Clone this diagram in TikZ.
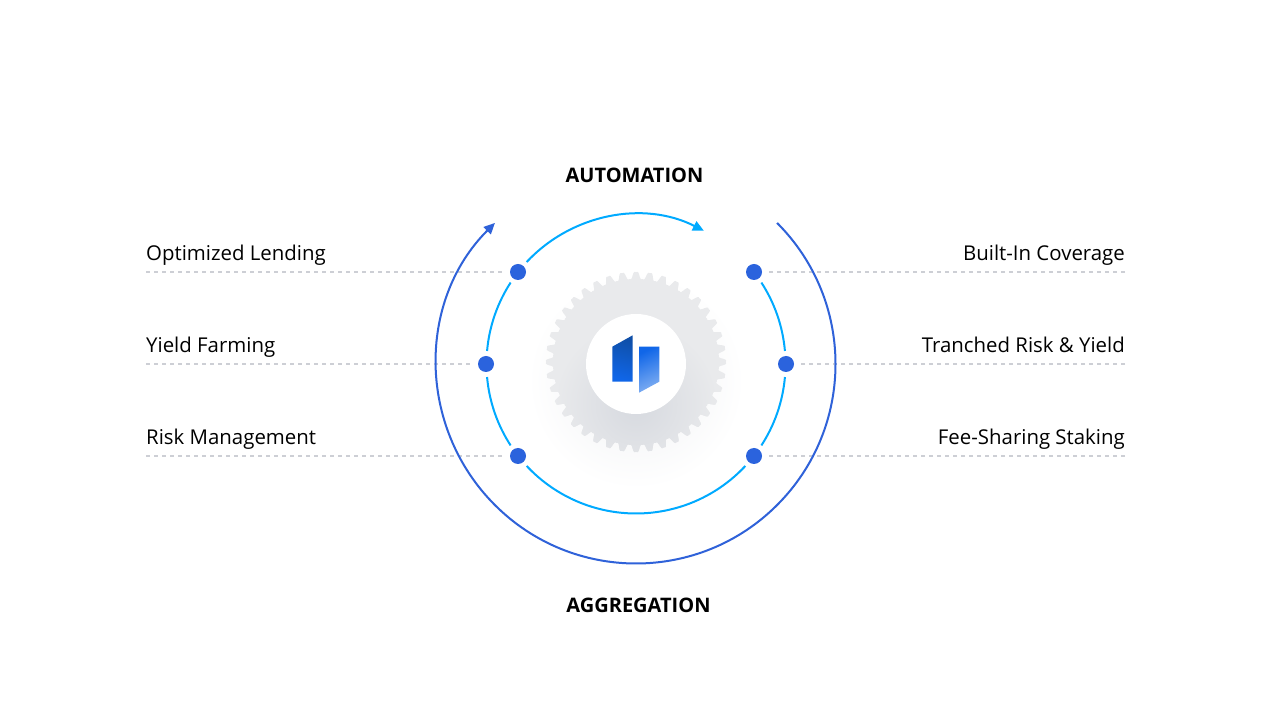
\documentclass[tikz,border=0pt]{standalone}
\usepackage{fontspec}
\setmainfont{Open Sans}
\usetikzlibrary{arrows.meta}
\definecolor{ringblue}{HTML}{2F62D9}
\definecolor{ringsky}{HTML}{00AAFF}
\definecolor{dotblue}{HTML}{2B63DD}
\definecolor{rulegray}{HTML}{CDCFD5}
\definecolor{geargray}{HTML}{E9EAEC}
\definecolor{gearshade}{HTML}{D6D9DF}
\definecolor{logodark}{HTML}{0F4FA8}
\definecolor{logomid}{HTML}{1066E8}
\definecolor{logolight}{HTML}{7FAEF2}
\tikzset{
  rowlabel/.style={font=\fontsize{20.4}{24}\selectfont,text=black,inner sep=0pt},
  headlabel/.style={font=\fontsize{20}{24}\selectfont\bfseries,text=black,inner sep=0pt,anchor=base},
  rowdot/.style={circle,fill=dotblue,minimum size=16pt,inner sep=0pt},
  rowrule/.style={draw=rulegray,line width=1.3pt,dash pattern=on 4pt off 4pt},
  outerring/.style={draw=ringblue,line width=2pt},
  innerring/.style={draw=ringsky,line width=2pt},
  declare function={gearrad(\t)=86.5+4.2*(1.6*cos(40*\t)-0.8*cos(40*\t)*cos(40*\t)*cos(40*\t));},
}
\begin{document}
\begin{tikzpicture}[x=1pt,y=1pt]
    \useasboundingbox (0,0) rectangle (1270,726);
    \fill[white] (0,0) rectangle (1270,726);
    \coordinate (hub) at (636,362);

    % soft glow under the gear
    \shade[inner color=gearshade!40,outer color=white] (636,345) circle (108);
    \begin{scope}
      \clip plot[smooth cycle,samples=720,domain=0:359.5]
        ({636+gearrad(\x)*cos(\x)},{364+gearrad(\x)*sin(\x)});
      \fill[geargray] (500,220) rectangle (770,500);
      \shade[inner color=gearshade,outer color=geargray] (636,322) circle (82);
    \end{scope}
    \node[circle,fill=white,minimum size=100pt,inner sep=0pt] (logo) at (636,362) {};

    % logo
    \shade[top color=logodark,bottom color=logomid,shading angle=-15]
      (612.3,379.3) -- (632.7,390.7) -- (632.7,344.3) -- (612.3,344.3) -- cycle;
    \shade[top color=logomid,bottom color=logolight,shading angle=25]
      (639,379.3) -- (659.3,379.3) -- (659.3,344.3) -- (639,333.3) -- cycle;

    \node[rowdot] (dotA) at (518,454) {};
    \node[rowdot] (dotB) at (486,362) {};
    \node[rowdot] (dotC) at (518,270) {};
    \node[rowdot] (dotD) at (754,454) {};
    \node[rowdot] (dotE) at (786,362) {};
    \node[rowdot] (dotF) at (754,270) {};

    \coordinate (endA) at (146,454);
    \coordinate (endB) at (146,362);
    \coordinate (endC) at (146,270);
    \coordinate (endD) at (1125,454);
    \coordinate (endE) at (1125,362);
    \coordinate (endF) at (1125,270);

    \foreach \row in {A,B,C,D,E,F}
      \draw[rowrule,shorten >=6pt] (end\row) -- (dot\row);

    \node[rowlabel,anchor=base west] (optlend) at (146,465) {Optimized Lending};
    \node[rowlabel,anchor=base west] (yieldfarm) at (146,373) {Yield Farming};
    \node[rowlabel,anchor=base west] (riskman) at (146,281) {Risk Management};
    \node[rowlabel,anchor=base east] (builtin) at (1125,465) {Built-In Coverage};
    \node[rowlabel,anchor=base east] (tranched) at (1125,373) {Tranched Risk \& Yield};
    \node[rowlabel,anchor=base east] (feeshare) at (1125,281) {Fee-Sharing Staking};

    \node[headlabel] (automation) at (634.5,543) {AUTOMATION};
    \node[headlabel] (aggregation) at (638.5,113) {AGGREGATION};

    \draw[outerring,-{Triangle[length=11pt,width=10pt]}] (hub) ++(45:199.5) arc (45:-225:199.5);
    \draw[innerring,-{Triangle[length=11pt,width=10pt]}] (hub) ++(137:149.5) arc (137:63:149.5);
    \draw[innerring] (hub) ++(33:149.5) arc (33:5:149.5);
    \draw[innerring] (hub) ++(-5:149.5) arc (-5:-33:149.5);
    \draw[innerring] (hub) ++(-43:149.5) arc (-43:-137:149.5);
    \draw[innerring] (hub) ++(-147:149.5) arc (-147:-175:149.5);
    \draw[innerring] (hub) ++(175:149.5) arc (175:147:149.5);
\end{tikzpicture}
\end{document}
